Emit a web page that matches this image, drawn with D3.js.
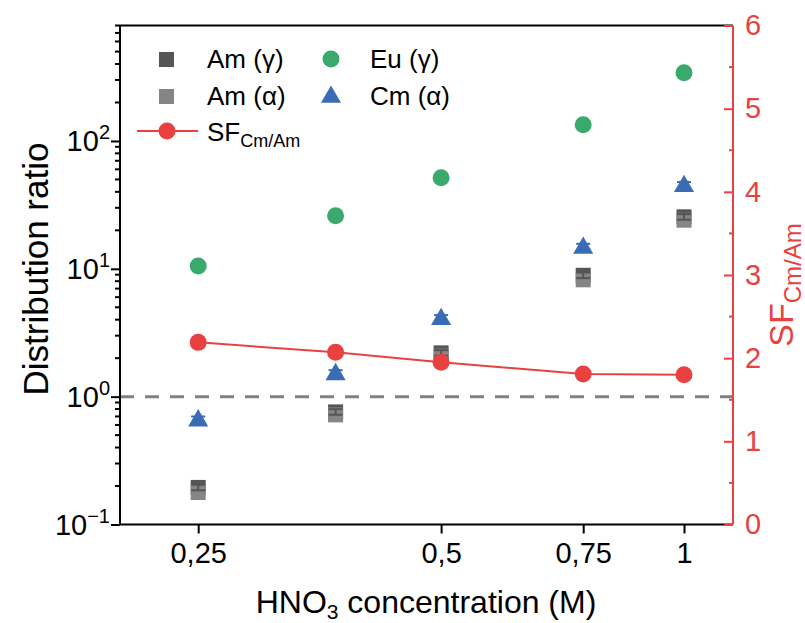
<!DOCTYPE html>
<html>
<head>
<meta charset="utf-8">
<script src="https://cdn.jsdelivr.net/npm/d3@7"></script>
<style>
  body { margin: 0; background: #fff; }
  text { font-family: "Liberation Sans", Arial, sans-serif; }
</style>
</head>
<body>
<div id="chart"></div>
<script>
// Data
const conc = [0.25, 0.37, 0.5, 0.75, 1];
const amGamma = [0.195, 0.76, 2.2, 8.9, 25.5];
const amAlpha = [0.178, 0.72, 2.08, 8.2, 24];
const euGamma = [10.5, 26, 51.5, 134, 341];
const cmAlpha = [0.66, 1.52, 4.1, 14.8, 45];
const sfCmAm = [2.19, 2.07, 1.95, 1.81, 1.8];
const xTicks = [0.25, 0.5, 0.75, 1];
const xTickLabels = ['0,25', '0,5', '0,75', '1'];
const yTicks = [0.1, 1, 10, 100];
const yTickExp = ['\u22121', '0', '1', '2'];
const yRTicks = [0, 1, 2, 3, 4, 5, 6];

const W = 805, H = 623;
const margin = { top: 25.5, right: 72, bottom: 98.5, left: 120 };
const width = W - margin.left - margin.right;
const height = H - margin.top - margin.bottom;

const red = '#e8413f', green = '#3aaa6c', blue = '#3a6cb6';
const dark = '#555555', light = '#858585';
const font = 'Liberation Sans, Arial, sans-serif';

const svg = d3.select('#chart').append('svg')
  .attr('width', W)
  .attr('height', H);

const g = svg.append('g')
  .attr('transform', `translate(${margin.left}, ${margin.top})`);

// Scales
const x = d3.scaleLog().domain([0.2, 1.15]).range([0, width]);
const y = d3.scaleLog().domain([0.1, 800]).range([height, 0]);
const yR = d3.scaleLinear().domain([0, 6]).range([height, 0]);

// Dashed reference line at D = 1
g.append('line')
  .attr('x1', 0).attr('x2', width)
  .attr('y1', y(1)).attr('y2', y(1))
  .attr('stroke', '#808080')
  .attr('stroke-width', 3)
  .attr('stroke-dasharray', '14,11');

// Frame: top line
g.append('line')
  .attr('x1', 0).attr('x2', width)
  .attr('y1', 0).attr('y2', 0)
  .attr('stroke', '#000').attr('stroke-width', 2);

// X axis
const xAxis = g.append('g')
  .attr('transform', `translate(0, ${height})`)
  .call(d3.axisBottom(x).tickValues(xTicks).tickSize(9).tickPadding(8)
    .tickFormat((d, i) => xTickLabels[i]));
xAxis.select('.domain').attr('stroke-width', 2).attr('d', `M0,0H${width}`);
xAxis.selectAll('.tick line').attr('stroke-width', 2);
xAxis.selectAll('.tick text')
  .attr('font-size', 29).attr('font-family', font).attr('fill', '#000')
  .attr('dy', null).attr('y', 38);

// Left Y axis (log) with minor ticks
const minor = [];
for (let e = -1; e <= 2; e++) {
  for (let m = 2; m <= 9; m++) {
    const v = m * Math.pow(10, e);
    if (v <= 800) minor.push(v);
  }
}
const yAxis = g.append('g')
  .call(d3.axisLeft(y).tickValues(yTicks).tickSize(9).tickFormat(''));
yAxis.select('.domain').attr('stroke-width', 2).attr('d', `M0,${height}V0`);
yAxis.selectAll('.tick line').attr('stroke-width', 2);

g.append('g').selectAll('line')
  .data(minor)
  .enter()
  .append('line')
  .attr('x1', -5).attr('x2', 0)
  .attr('y1', (d) => y(d)).attr('y2', (d) => y(d))
  .attr('stroke', '#000').attr('stroke-width', 2);

const yLab = g.append('g').selectAll('text')
  .data(yTicks)
  .enter()
  .append('text')
  .attr('x', -10)
  .attr('y', (d) => y(d) + 10)
  .attr('text-anchor', 'end')
  .attr('font-size', 29);
yLab.append('tspan').text('10');
yLab.append('tspan')
  .attr('font-size', 20)
  .attr('dy', -12)
  .text((d, i) => yTickExp[i]);

// Right Y axis (linear, red)
const yRAxis = g.append('g')
  .attr('transform', `translate(${width}, 0)`)
  .call(d3.axisRight(yR).tickValues(yRTicks).tickSize(-9).tickPadding(12)
    .tickFormat(d3.format('d')));
yRAxis.select('.domain').attr('stroke', red).attr('stroke-width', 2).attr('d', `M0,${height}V0`);
yRAxis.selectAll('.tick line').attr('stroke', red).attr('stroke-width', 2);
yRAxis.selectAll('.tick text').attr('fill', red).attr('font-size', 29)
  .attr('font-family', font);

g.append('g').selectAll('line')
  .data(d3.range(0.5, 6, 1))
  .enter()
  .append('line')
  .attr('x1', width - 4).attr('x2', width)
  .attr('y1', (d) => yR(d)).attr('y2', (d) => yR(d))
  .attr('stroke', red).attr('stroke-width', 2);

// Error bars helper (small symmetric errors)
function errorBars(values, color, rel) {
  const eb = g.append('g').attr('stroke', color).attr('stroke-width', 2);
  values.forEach((v, i) => {
    const cx = x(conc[i]);
    eb.append('line')
      .attr('x1', cx).attr('x2', cx)
      .attr('y1', y(v * (1 + rel))).attr('y2', y(v * (1 - rel)));
    [1 + rel, 1 - rel].forEach((f) => {
      eb.append('line')
        .attr('x1', cx - 7).attr('x2', cx + 7)
        .attr('y1', y(v * f)).attr('y2', y(v * f));
    });
  });
}

// Am squares
g.selectAll('.am-gamma')
  .data(amGamma)
  .enter()
  .append('rect')
  .attr('class', 'am-gamma')
  .attr('x', (d, i) => x(conc[i]) - 7.5)
  .attr('y', (d) => y(d) - 7.5)
  .attr('width', 15).attr('height', 15)
  .attr('fill', dark);

g.selectAll('.am-alpha')
  .data(amAlpha)
  .enter()
  .append('rect')
  .attr('class', 'am-alpha')
  .attr('x', (d, i) => x(conc[i]) - 7.5)
  .attr('y', (d) => y(d) - 7.5)
  .attr('width', 15).attr('height', 15)
  .attr('fill', light);

errorBars(amGamma, dark, 0.05);

// Eu circles
g.selectAll('.eu')
  .data(euGamma)
  .enter()
  .append('circle')
  .attr('class', 'eu')
  .attr('cx', (d, i) => x(conc[i]))
  .attr('cy', (d) => y(d))
  .attr('r', 8.5)
  .attr('fill', green);

// Cm triangles
const tri = d3.symbol().type(d3.symbolTriangle).size(175);
g.selectAll('.cm')
  .data(cmAlpha)
  .enter()
  .append('path')
  .attr('class', 'cm')
  .attr('d', tri)
  .attr('transform', (d, i) => `translate(${x(conc[i])}, ${y(d) + 1})`)
  .attr('fill', blue);
errorBars(cmAlpha, blue, 0.06);

// SF line on right axis
const sfLine = d3.line()
  .x((d, i) => x(conc[i]))
  .y((d) => yR(d));
g.append('path')
  .datum(sfCmAm)
  .attr('d', sfLine)
  .attr('fill', 'none')
  .attr('stroke', red)
  .attr('stroke-width', 2);
g.selectAll('.sf')
  .data(sfCmAm)
  .enter()
  .append('circle')
  .attr('class', 'sf')
  .attr('cx', (d, i) => x(conc[i]))
  .attr('cy', (d) => yR(d))
  .attr('r', 8.5)
  .attr('fill', red);

// Legend
const legend = svg.append('g').attr('font-size', 26);
legend.append('rect').attr('x', 159).attr('y', 52).attr('width', 15).attr('height', 15).attr('fill', dark);
legend.append('rect').attr('x', 159).attr('y', 89).attr('width', 15).attr('height', 15).attr('fill', light);
legend.append('circle').attr('cx', 331).attr('cy', 59).attr('r', 8.5).attr('fill', green);
legend.append('path').attr('d', tri).attr('transform', 'translate(331, 97)').attr('fill', blue);
legend.append('line').attr('x1', 137).attr('x2', 198).attr('y1', 131).attr('y2', 131)
  .attr('stroke', red).attr('stroke-width', 2);
legend.append('circle').attr('cx', 167).attr('cy', 131).attr('r', 8.5).attr('fill', red);

legend.append('text').attr('x', 207).attr('y', 68).text('Am (\u03b3)');
legend.append('text').attr('x', 207).attr('y', 105).text('Am (\u03b1)');
legend.append('text').attr('x', 370).attr('y', 68).text('Eu (\u03b3)');
legend.append('text').attr('x', 370).attr('y', 105).text('Cm (\u03b1)');
const sfLeg = legend.append('text').attr('x', 207).attr('y', 141);
sfLeg.append('tspan').text('SF');
sfLeg.append('tspan').attr('font-size', 18).attr('dy', 6).text('Cm/Am');

// Axis titles
const xTitle = svg.append('text')
  .attr('x', 426)
  .attr('y', 613)
  .attr('text-anchor', 'middle')
  .attr('font-size', 32);
xTitle.append('tspan').text('HNO');
xTitle.append('tspan').attr('font-size', 21).attr('dy', 6).text('3');
xTitle.append('tspan').attr('dy', -6).text(' concentration (M)');

svg.append('text')
  .attr('transform', `translate(48, 269) rotate(-90)`)
  .attr('text-anchor', 'middle')
  .attr('font-size', 35)
  .text('Distribution ratio');

const rTitle = svg.append('text')
  .attr('transform', `translate(793, 285) rotate(-90)`)
  .attr('text-anchor', 'middle')
  .attr('font-size', 34)
  .attr('fill', red);
rTitle.append('tspan').text('SF');
rTitle.append('tspan').attr('font-size', 24).attr('dy', 8).text('Cm/Am');
</script>
</body>
</html>
